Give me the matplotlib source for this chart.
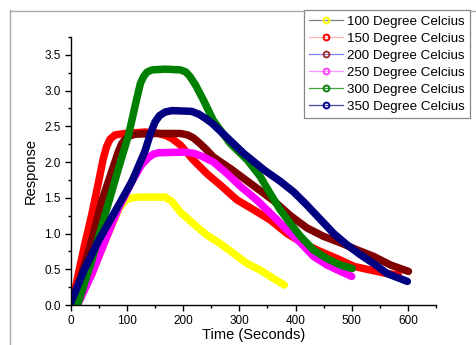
import matplotlib
matplotlib.use("Agg")
import matplotlib.pyplot as plt
from matplotlib.lines import Line2D

plt.rcParams['font.family'] = ['Liberation Sans', 'DejaVu Sans']

# ---- data ----
labels = ["100 Degree Celcius", "150 Degree Celcius", "200 Degree Celcius",
          "250 Degree Celcius", "300 Degree Celcius", "350 Degree Celcius"]

t100 = [10, 37, 61, 85, 94, 100, 110, 120, 168, 180, 195, 218, 242, 266, 290, 314, 337, 361, 380]
r100 = [0.0, 0.42, 0.89, 1.33, 1.43, 1.48, 1.50, 1.51, 1.51, 1.45, 1.30, 1.14, 0.98, 0.86, 0.72, 0.58, 0.49, 0.37, 0.28]

t150 = [2, 14, 25, 37, 49, 58, 64, 70, 79, 97, 132, 156, 170, 180, 195, 218, 242, 266, 296, 326, 355, 385,
        414, 444, 474, 504, 533, 563, 583]
r150 = [0.0, 0.45, 0.85, 1.25, 1.70, 2.05, 2.22, 2.32, 2.38, 2.40, 2.42, 2.40, 2.37, 2.33, 2.24, 2.03, 1.84, 1.68,
        1.47, 1.33, 1.19, 1.00, 0.86, 0.75, 0.65, 0.54, 0.49, 0.44, 0.42]

t200 = [3, 20, 37, 55, 67, 79, 85, 91, 97, 106, 115, 150, 195, 208, 218, 230, 242, 254, 284, 320, 361, 391, 420, 450,
        480, 510, 539, 569, 601]
r200 = [0.0, 0.45, 0.89, 1.45, 1.73, 2.01, 2.15, 2.26, 2.32, 2.37, 2.39, 2.40, 2.40, 2.38, 2.34, 2.26, 2.17, 2.07, 1.91, 1.70,
        1.46, 1.25, 1.08, 0.96, 0.87, 0.77, 0.68, 0.56, 0.47]

t250 = [12, 37, 61, 85, 109, 126, 138, 147, 156, 204, 220, 234, 254, 278, 302, 331, 361, 385, 409, 432, 456, 480, 500]
r250 = [0.0, 0.42, 0.89, 1.35, 1.73, 1.96, 2.06, 2.11, 2.13, 2.14, 2.12, 2.08, 2.00, 1.84, 1.66, 1.47, 1.24, 1.05,
        0.87, 0.68, 0.56, 0.47, 0.40]

t300 = [12, 37, 61, 85, 103, 115, 124, 130, 136, 145, 168, 195, 205, 212, 222, 236, 254, 266, 284, 314, 337, 355, 373, 391,
        409, 432, 456, 480, 501]
r300 = [0.0, 0.61, 1.26, 1.91, 2.38, 2.80, 3.10, 3.20, 3.26, 3.29, 3.30, 3.29, 3.26, 3.20, 3.08, 2.87, 2.58, 2.45, 2.26, 2.03,
        1.80, 1.56, 1.33, 1.14, 0.96, 0.77, 0.65, 0.56, 0.51]

t350 = [0, 25, 49, 79, 109, 132, 142, 150, 158, 168, 180, 215, 228, 240, 252, 280, 308, 344, 373, 397, 420, 444, 468, 492,
        516, 539, 563, 599]
r350 = [0.03, 0.51, 0.89, 1.31, 1.73, 2.15, 2.40, 2.56, 2.65, 2.70, 2.72, 2.71, 2.67, 2.61, 2.54, 2.33, 2.12, 1.89, 1.73, 1.58,
        1.40, 1.20, 1.00, 0.84, 0.70, 0.58, 0.44, 0.33]

times = [t100, t150, t200, t250, t300, t350]
resps = [r100, r150, r200, r250, r300, r350]

marker_colors = ["#ffff00", "#ff0000", "#800000", "#ff00ff", "#008000", "#000080"]
legend_line_colors = ["#808080", "#ffb4b4", "#8080ff", "#ff90ff", "#40a040", "#4848a8"]
legend_marker_colors = ["#ffff00", "#ff0000", "#a03030", "#ff40ff", "#108010", "#000090"]

xticks = [0, 100, 200, 300, 400, 500, 600]
yticks = [0.0, 0.5, 1.0, 1.5, 2.0, 2.5, 3.0, 3.5]

# ---- figure ----
W, H = 477, 345
fig = plt.figure(figsize=(W / 100, H / 100), dpi=100)
ax = fig.add_axes([70.7 / W, 1 - 305 / H, (436 - 70.7) / W, (305 - 37) / H])

for t, r, c in zip(times, resps, marker_colors):
    ax.plot(t, r, color=c, lw=5.4, solid_capstyle='round', solid_joinstyle='round')

ax.set_xlim(0, 650)
ax.set_ylim(0, 3.75)
ax.set_xticks(xticks)
ax.set_xticklabels([str(v) for v in xticks])
ax.set_yticks(yticks)
ax.set_yticklabels([f"{v:.1f}" for v in yticks])
ax.set_xticks([50, 150, 250, 350, 450, 550, 650], minor=True)
ax.set_yticks([0.25, 0.75, 1.25, 1.75, 2.25, 2.75, 3.25, 3.75], minor=True)
ax.tick_params(which='major', direction='out', length=4.5, width=1, labelsize=8.5, pad=2.5, colors='black')
ax.tick_params(which='minor', direction='out', length=2.5, width=1)
for s in ['top', 'right']:
    ax.spines[s].set_visible(False)
for s in ['left', 'bottom']:
    ax.spines[s].set_linewidth(1)

ax.set_xlabel("Time (Seconds)", fontsize=10.5, labelpad=1)
ax.set_ylabel("Response", fontsize=10.5, labelpad=5)

# legend
handles = [Line2D([0], [0], color=lc, lw=0.9, marker='o', markersize=4.2, markerfacecolor='none',
                  markeredgecolor=mc, markeredgewidth=1.4)
           for lc, mc in zip(legend_line_colors, legend_marker_colors)]
leg = fig.legend(handles, labels, loc='upper left', bbox_to_anchor=(304 / W, 1 - 10 / H),
                 bbox_transform=fig.transFigure, fontsize=9.6, frameon=True, fancybox=False,
                 framealpha=1, edgecolor='#888888', borderaxespad=0, borderpad=0.4,
                 handlelength=2.5, handletextpad=0.3, labelspacing=0.35)
leg.get_frame().set_linewidth(0.9)

# gray outer frame
fig.add_artist(Line2D([10.5 / W, 10.5 / W], [1 - 10 / H, 0], color='#aaaaaa', lw=1,
                      transform=fig.transFigure))
fig.add_artist(Line2D([10.5 / W, 1], [1 - 10.5 / H, 1 - 10.5 / H], color='#aaaaaa', lw=1,
                      transform=fig.transFigure))

fig.savefig("out.png", dpi=100)
